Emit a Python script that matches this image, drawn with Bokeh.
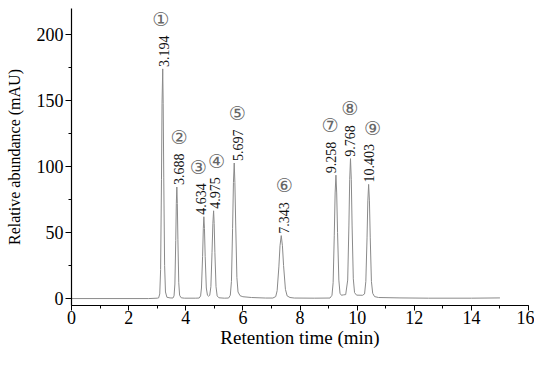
import numpy as np
from bokeh.plotting import figure
from bokeh.models import Range1d, SingleIntervalTicker, ColumnDataSource
from bokeh.core.properties import value
from bokeh.embed import file_html
from bokeh.resources import INLINE

# chromatogram trace (retention time, absorbance)
trace_t = [0.0, 2.7, 3.0,
           3.05, 3.09, 3.12, 3.15, 3.17, 3.194, 3.21, 3.23, 3.26, 3.29, 3.34, 3.45,
           3.55, 3.59, 3.62, 3.65, 3.67, 3.688, 3.705, 3.725, 3.755, 3.785, 3.84, 3.95, 4.35,
           4.47, 4.52, 4.55, 4.59, 4.615, 4.634, 4.655, 4.68, 4.72, 4.76, 4.80,
           4.84, 4.88, 4.92, 4.95, 4.975, 4.995, 5.02, 5.06, 5.10, 5.16, 5.35,
           5.50, 5.56, 5.60, 5.64, 5.67, 5.697, 5.72, 5.75, 5.79, 5.83, 5.90, 6.0, 6.3, 6.8,
           7.05, 7.15, 7.20, 7.26, 7.30, 7.343, 7.385, 7.425, 7.49, 7.55, 7.65, 7.8, 8.5,
           9.05, 9.12, 9.16, 9.20, 9.23, 9.258, 9.285, 9.315, 9.36, 9.40, 9.45,
           9.52, 9.60, 9.67, 9.712, 9.74, 9.768, 9.796, 9.824, 9.866, 9.91, 9.98,
           10.19, 10.26, 10.305, 10.347, 10.375, 10.403, 10.431, 10.459, 10.50, 10.545, 10.61,
           10.75, 11.5, 12.5, 14.0, 15.0]
trace_y = [0.0, 0.0, 0.3,
           0.5, 3.5, 22, 90, 148, 174, 148, 92, 25, 5, 1, 0.5,
           0.4, 2, 11, 44, 72, 84.5, 72, 45, 12, 2.5, 0.6, 0.3, 0.3,
           0.4, 2, 8, 32, 53, 62, 53, 32, 8, 2.5, 1.8,
           2.5, 9, 35, 57, 66.5, 57, 35, 9, 2, 0.6, 0.3,
           0.4, 2.5, 13, 53, 88, 102.7, 88, 55, 16, 5, 2.2, 1.4, 0.8, 0.4,
           0.4, 1.5, 6, 24, 40, 47.7, 40, 25, 7, 2, 0.8, 0.4, 0.3,
           0.4, 2.5, 12, 48, 80, 93.5, 80, 50, 14, 4, 2.5,
           2.8, 3.0, 14, 55, 90, 106, 90, 55, 15, 4.5, 2.6,
           2.5, 3.5, 13, 46, 74, 86.5, 74, 46, 13, 4, 1.5,
           0.8, 0.5, 0.3, 0.3, 0.5]

# peak annotations
peak_rt = [3.194, 3.688, 4.634, 4.975, 5.697, 7.343, 9.258, 9.768, 10.403]
peak_h = [174, 84.5, 62, 66.5, 102.7, 47.7, 93.5, 106, 86.5]
peak_labels = ["3.194", "3.688", "4.634", "4.975", "5.697", "7.343", "9.258", "9.768", "10.403"]
peak_marks = ["①", "②", "③", "④", "⑤", "⑥", "⑦", "⑧", "⑨"]
# horizontal nudges of the annotations (min)
label_dx = [0.03, 0.08, -0.1, 0.04, 0.13, 0.08, -0.18, 0.0, 0.02]
mark_dx = [-0.07, 0.08, -0.2, 0.1, 0.11, 0.11, -0.21, -0.03, 0.14]

FONT = "Liberation Serif"

p = figure(width=534, height=350, output_backend="svg", toolbar_location=None,
           x_range=Range1d(0, 16), y_range=Range1d(-5.25, 219.75),
           min_border_left=71, min_border_right=6, min_border_top=8, min_border_bottom=44)
p.outline_line_color = None
p.grid.visible = False
p.background_fill_color = "white"
p.border_fill_color = "white"

p.line(trace_t, trace_y, line_color="#8a8a8a", line_width=1)

lab_src = ColumnDataSource(dict(x=[r + d for r, d in zip(peak_rt, label_dx)],
                                y=[h + 1.5 for h in peak_h], t=peak_labels))
p.text(x="x", y="y", text="t", source=lab_src, angle=np.pi / 2,
       text_align="left", text_baseline="middle",
       text_font=value(FONT), text_font_size="14px", text_color="#111111")

mark_src = ColumnDataSource(dict(
    x=[r + d for r, d in zip(peak_rt, mark_dx)],
    y=[h + 14 + 4.8 * len(t) for h, t in zip(peak_h, peak_labels)],
    t=peak_marks))
p.text(x="x", y="y", text="t", source=mark_src,
       text_align="center", text_baseline="middle",
       text_font=value("DejaVu Sans"), text_font_size="19px", text_color="#666666")

for ax in (p.xaxis[0], p.yaxis[0]):
    ax.axis_line_color = "black"
    ax.axis_line_width = 1.2
    ax.major_tick_line_color = "black"
    ax.minor_tick_line_color = "black"
    ax.major_tick_in = 0
    ax.major_tick_out = 6
    ax.minor_tick_in = 0
    ax.minor_tick_out = 3
    ax.major_label_text_font = FONT
    ax.major_label_text_font_size = "18px"
    ax.major_label_text_color = "black"
    ax.axis_label_text_font = FONT
    ax.axis_label_text_font_style = "normal"
    ax.axis_label_text_color = "black"

p.xaxis.ticker = SingleIntervalTicker(interval=2, num_minor_ticks=2)
p.yaxis.ticker = SingleIntervalTicker(interval=50, num_minor_ticks=2)
p.xaxis.axis_label = "Retention time (min)"
p.yaxis.axis_label = "Relative abundance (mAU)"
p.xaxis.axis_label_text_font_size = "19px"
p.yaxis.axis_label_text_font_size = "16px"
p.xaxis.major_tick_out = 5
p.xaxis.major_label_standoff = 0
p.yaxis.major_label_standoff = 2
p.xaxis.axis_label_standoff = 0
p.yaxis.axis_label_standoff = 11

open("out.html", "w").write(file_html(p, INLINE))
